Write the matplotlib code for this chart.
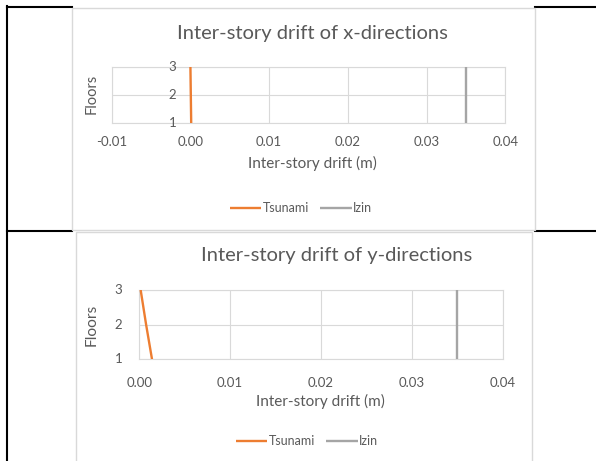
import matplotlib
matplotlib.use("Agg")
import matplotlib.pyplot as plt
import matplotlib.transforms as mtrans
from matplotlib.lines import Line2D
from matplotlib.patches import Rectangle

plt.rcParams['font.family'] = ['Lato', 'DejaVu Sans']

# ---- data -------------------------------------------------------------
floors = [1, 2, 3]
floor_labels = ["1", "2", "3"]

tsunami_x_dir = [0.0001, 0.00005, 0.0]
izin_x_dir = [0.035, 0.035, 0.035]
x_dir_ticks = [-0.01, 0.0, 0.01, 0.02, 0.03, 0.04]
x_dir_tick_labels = ["-0.01", "0.00", "0.01", "0.02", "0.03", "0.04"]

tsunami_y_dir = [0.0014, 0.00075, 0.00015]
izin_y_dir = [0.035, 0.035, 0.035]
y_dir_ticks = [0.0, 0.01, 0.02, 0.03, 0.04]
y_dir_tick_labels = ["0.00", "0.01", "0.02", "0.03", "0.04"]

titles = ["Inter-story drift of x-directions", "Inter-story drift of y-directions"]
xlabel = "Inter-story drift (m)"
ylabel = "Floors"
series_names = ["Tsunami", "Izin"]

# ---- styling ----------------------------------------------------------
ORANGE = "#ED7D31"
GREY = "#A5A5A5"
TEXT = "#595959"
GRID = "#D9D9D9"
FRAME = "#D9D9D9"

W, H = 596, 461
fig = plt.figure(figsize=(W / 100, H / 100), dpi=100)


def fx(x):
    return x / W


def fy(y):
    return 1 - y / H


# table borders
for (x0, x1, y) in [(6.5, 72, 7.5), (535, 596, 7.5), (6.5, 72, 231), (535, 596, 231)]:
    fig.add_artist(Line2D([fx(x0), fx(x1)], [fy(y), fy(y)], color="black", lw=1.5,
                          transform=fig.transFigure, zorder=-2))
fig.add_artist(Line2D([fx(7.5), fx(7.5)], [fy(6.5), fy(461)], color="black", lw=1.5,
                      transform=fig.transFigure, zorder=-2))

# chart frames
for (x0, y0, x1, y1) in [(72, 8, 535, 230), (76, 231.5, 532, 470)]:
    fig.add_artist(Rectangle((fx(x0), fy(y1)), fx(x1) - fx(x0), (y1 - y0) / H,
                             facecolor="white", edgecolor=FRAME, lw=1.0,
                             transform=fig.transFigure, zorder=-1))


def make_chart(box, xs_t, xs_i, ticks, tick_labels, xlim, title, title_xy,
               xlabel_xy, ylabel_xy, legend_xy, xpad, ylab_off, ylab_size):
    l, t, r, b = box
    ax = fig.add_axes([fx(l), fy(b), fx(r) - fx(l), (b - t) / H])
    ax.set_facecolor("none")
    ax.plot(xs_t, floors, color=ORANGE, lw=1.7, label=series_names[0],
            solid_capstyle="butt", zorder=3)
    ax.plot(xs_i, floors, color=GREY, lw=1.7, label=series_names[1],
            solid_capstyle="butt", zorder=3)
    ax.set_xlim(*xlim)
    ax.set_ylim(1, 3)
    ax.set_xticks(ticks)
    ax.set_xticklabels(tick_labels)
    ax.set_yticks(floors)
    ax.set_yticklabels([])
    ax.tick_params(axis="both", length=0, colors=TEXT, labelsize=9.5)
    ax.tick_params(axis="x", pad=xpad)
    ax.grid(True, color=GRID, lw=0.8)
    for s in ax.spines.values():
        s.set_color(GRID)
        s.set_linewidth(0.8)
    # vertical-axis labels sit beside the zero line
    off = mtrans.offset_copy(ax.transData, fig=fig, x=ylab_off, y=0, units="dots")
    for v, lab in zip(floors, floor_labels):
        ax.text(0, v, lab, transform=off, ha="right", va="center",
                fontsize=9.5, color=TEXT)
    fig.text(fx(title_xy[0]), fy(title_xy[1]), title, ha="center", va="center",
             fontsize=14.5, color=TEXT)
    fig.text(fx(xlabel_xy[0]), fy(xlabel_xy[1]), xlabel, ha="center", va="center",
             fontsize=11, color=TEXT)
    fig.text(fx(ylabel_xy[0]), fy(ylabel_xy[1]), ylabel, ha="center", va="center",
             fontsize=ylab_size, color=TEXT, rotation=90)
    leg = ax.legend(loc="center", bbox_to_anchor=(fx(legend_xy[0]), fy(legend_xy[1])),
                    bbox_transform=fig.transFigure, ncol=2, frameon=False,
                    fontsize=9, handlelength=2.5, handletextpad=0.15,
                    columnspacing=0.9, borderpad=0)
    for txt in leg.get_texts():
        txt.set_color(TEXT)
    return ax


make_chart((111.7, 67, 505.3, 123), tsunami_x_dir, izin_x_dir, x_dir_ticks,
           x_dir_tick_labels, (-0.01, 0.04), titles[0], (312, 33), (312, 163),
           (92, 94), (301, 208), 9.5, -14, 10.5)

make_chart((139.3, 290, 502.7, 359.3), tsunami_y_dir, izin_y_dir, y_dir_ticks,
           y_dir_tick_labels, (0.0, 0.04), titles[1], (337, 255), (320, 401),
           (92, 325), (307, 441), 12.5, -17, 11.2)

fig.savefig("out.png", dpi=100, facecolor="white")
